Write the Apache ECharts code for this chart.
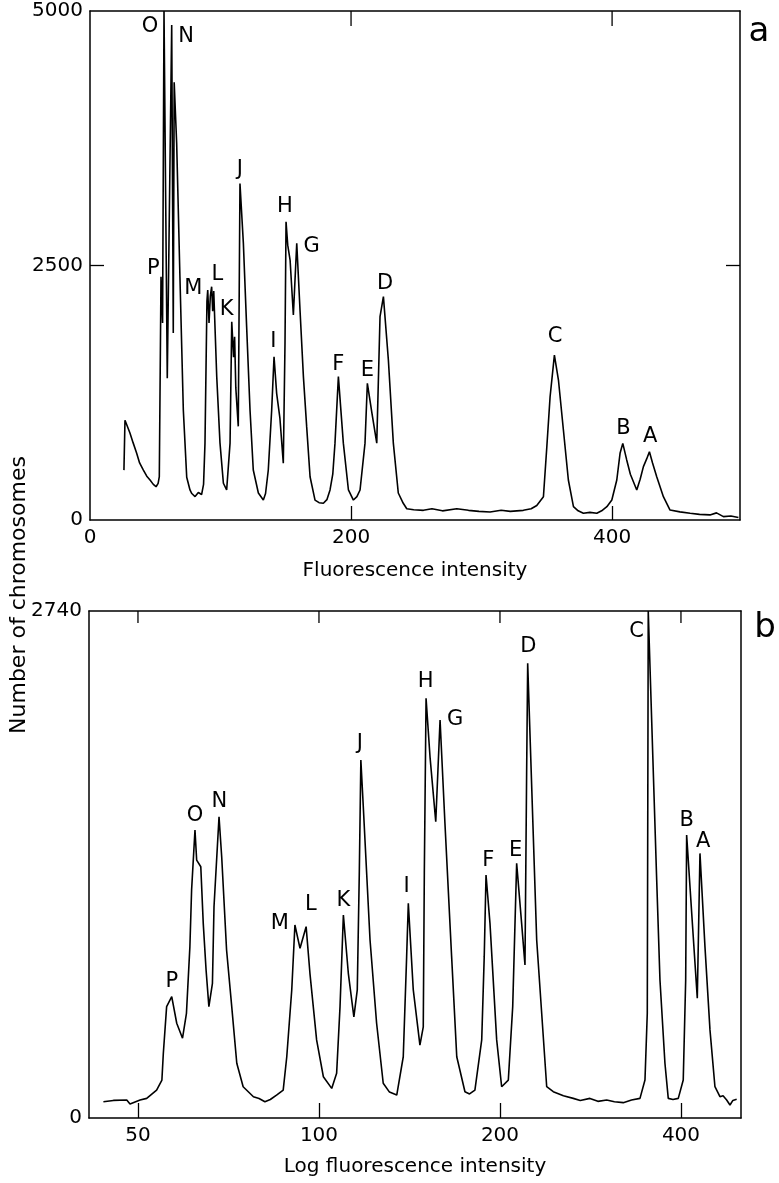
<!DOCTYPE html>
<html><head><meta charset="utf-8">
<script src="https://cdn.jsdelivr.net/npm/echarts@6/dist/echarts.min.js"></script>
<style>html,body{margin:0;padding:0;background:#fff}#c{width:779px;height:1183px}</style>
</head><body><div id="c"></div>
<script>
// ---------- Panel a: linear fluorescence intensity ----------
const aIntensity = [26,26.8,28,30.6,33,35.7,38,40.9,43.5,46,48.5,50.6,52.2,53.1,54.4,55.6,56.7,59.2,62.6,63.8,64.5,66.4,68.9,71.5,74.1,76.6,78,80.5,83,85.5,87,88.1,89.6,90.2,91.2,92.2,93.2,94,94.8,97.1,99.6,102.2,104.7,107.3,108.6,110,110.8,111.7,113.6,114.9,117.5,120,122.6,125.1,129,132.8,134.5,136.6,139.2,141,143,145.5,148.1,149.4,150.2,151.5,153.3,155.8,158.4,160.9,163.5,166,168.6,172.4,175.5,178.8,181.5,183.9,186,187.7,190.3,194.1,198,201.8,204.5,206.9,210.7,212.5,216,219.7,222.2,224.8,228.6,232.4,236.2,240,242.7,248,255.4,262,270,281,290,298,306.5,315,322,332,338,342.3,347.4,350,352.5,355.8,358.9,362.7,366.5,370.4,374,378,383,388.3,392,396,399.8,403.6,406.1,408.2,411.2,414,418.9,421.5,424,426.5,428.6,431,434.2,439.3,444.4,452,459.8,467,475,480,485.3,491,496.8];
const aCount = [490,980,940,855,760,658,560,491,430,393,350,327,360,425,2390,1935,5000,1392,4862,1837,4300,3700,2390,1080,420,295,260,230,270,250,350,755,2150,2260,1935,2200,2292,2050,2250,1408,755,361,295,755,1948,1600,1800,1300,920,3306,2720,1900,1080,491,265,196,260,491,1080,1604,1244,1000,557,1735,2930,2700,2554,2014,2718,2063,1408,917,425,196,170,164,200,295,450,755,1408,755,295,196,230,295,755,1343,1050,755,1997,2194,1572,755,265,164,110,100,95,110,90,110,95,85,79,95,85,95,110,143,229,720,1211,1620,1375,884,393,131,90,66,75,66,90,131,196,393,655,753,590,450,295,400,524,600,671,560,425,229,98,80,66,55,50,70,33,40,25];
const aPeakNames = ['O','N','P','M','L','K','J','I','H','G','F','E','D','C','B','A'];
const aPeakX = [46,73.6,48.5,79.2,97.6,104.7,114.9,140.5,149.4,169.9,190.3,212.5,226,356.3,408.7,429.1];
const aPeakY = [4846,4748,2472,2276,2407,2063,3438,1751,3078,2685,1523,1473,2325,1801,900,818];
const aXTicks = [200,400];
const aXLabels = [0,200,400];
const aYTicks = [2500];
const aYLabels = [0,2500,5000];

// ---------- Panel b: log fluorescence intensity ----------
const bIntensity = [43.8,45.5,47.9,48.5,50.4,51.7,53.7,54.8,55.1,55.8,56.9,58.0,59.3,60.2,61.0,61.4,62.2,62.6,63.6,64.2,64.9,65.6,66.5,66.9,68.2,68.9,70.2,71.6,73.0,74.8,77.8,79.5,81.3,83,85.0,87.2,88.4,90.1,91.2,93.0,95.2,96.6,99.1,101.7,105.0,107.0,108.4,109.8,111.9,114.3,115.8,116.7,117.4,118.5,121.6,124.7,127.9,131,134.7,138.1,139.9,140.8,143.5,147.2,149.1,149.7,150.7,153.0,156.4,159.0,162.0,166.2,169.5,174.9,178,181.7,186.5,188.3,189.6,192.5,197.5,201.3,206.5,210.0,213.2,217.3,220.1,221.5,222.4,230.2,239.2,245.3,255,264.8,272,282.3,291,301,310,320.7,331,341.9,348.5,351.6,352.9,364.5,369.1,376.2,381,388,395.9,403.5,407.3,408.8,417.2,425.8,430.2,438.5,447,455.6,464.4,470,476.5,482.6,488,495.1];
const bCount = [88,95,97,76,97,106,151,205,350,602,656,512,431,566,926,1232,1556,1394,1358,1052,800,602,728,1142,1628,1412,908,602,296,169,115,105,88,100,124,151,331,692,1043,917,1034,782,422,223,160,242,602,1097,782,547,692,1322,1935,1682,962,512,188,140,124,331,872,1160,692,394,493,1322,2268,1952,1601,2151,1593,872,331,142,130,151,422,872,1313,1052,422,169,205,602,1376,1052,827,1863,2457,962,169,142,120,106,95,106,90,97,88,83,97,106,205,566,2740,1286,746,296,106,100,106,205,746,1529,1086,647,1430,926,476,169,115,120,97,70,95,101];
const bPeakNames = ['P','O','N','M','L','K','J','I','H','G','F','E','D','C','B','A'];
const bPeakX = [56.9,62.2,68.3,86.1,96.9,109.8,117.0,139.9,150.5,168.4,191.2,212.4,222.9,337.6,408.8,435.7];
const bPeakY = [737,1637,1709,1052,1151,1174,2025,1250,2358,2151,1394,1448,2547,2628,1610,1493];
const bXTicks = [50,100,200,400];
const bXMin = 41.45, bXMax = 503.4;
const bYLabels = [0,2740];

const FONT = '"DejaVu Sans", sans-serif';
const lg = Math.log10;

const axLine = {show:true, onZero:false, lineStyle:{color:'#000', width:1.5}};
const tickStyle = {color:'#000', width:1.3};
const plain = v => String(Math.round(v));
const lbl = (extra) => Object.assign({color:'#000', fontSize:20, fontFamily:FONT, formatter:plain}, extra);

// top-edge tick marks: x from the axis scale, y from the grid's top edge, pointing down
function topTicks(xIdx, yIdx, ticks, len) {
  return {type:'custom', xAxisIndex:xIdx, yAxisIndex:yIdx, clip:false, silent:true, z:10,
    data:ticks.map(v=>[v, 0]),
    renderItem:(params, api)=>{
      const p = api.coord([api.value(0), 0]);
      const top = params.coordSys.y;
      return {type:'line', shape:{x1:p[0], y1:top, x2:p[0], y2:top+len},
              style:{stroke:'#000', lineWidth:1.3}};
    }};
}

const option = {
  animation:false,
  backgroundColor:'#fff',
  grid:[
    {left:90, top:11, width:650, height:509},
    {left:89, top:611, width:652, height:507}
  ],
  xAxis:[
    {type:'value', gridIndex:0, position:'bottom', min:0, max:498,
     axisLine:axLine, splitLine:{show:false},
     axisTick:{show:true, inside:true, length:14, customValues:aXTicks, lineStyle:tickStyle},
     axisLabel:lbl({customValues:aXLabels, margin:8}),
     name:'Fluorescence intensity', nameLocation:'middle', nameGap:41,
     nameTextStyle:{color:'#000', fontSize:20, fontFamily:FONT}},
    {type:'value', gridIndex:0, position:'top', min:0, max:498,
     axisLine:axLine, splitLine:{show:false}, axisTick:{show:false}, axisLabel:{show:false}},
    {type:'value', gridIndex:1, position:'bottom', min:lg(bXMin), max:lg(bXMax),
     axisLine:axLine, splitLine:{show:false},
     axisTick:{show:true, inside:true, length:15, customValues:bXTicks.map(lg), lineStyle:tickStyle},
     axisLabel:lbl({customValues:bXTicks.map(lg), margin:8, formatter:v=>String(Math.round(Math.pow(10,v)))}),
     name:'Log fluorescence intensity', nameLocation:'middle', nameGap:39,
     nameTextStyle:{color:'#000', fontSize:20, fontFamily:FONT}},
    {type:'value', gridIndex:1, position:'top', min:lg(bXMin), max:lg(bXMax),
     axisLine:axLine, splitLine:{show:false}, axisTick:{show:false}, axisLabel:{show:false}}
  ],
  yAxis:[
    {type:'value', gridIndex:0, position:'left', min:0, max:5000, interval:2500,
     axisLine:axLine, splitLine:{show:false},
     axisTick:{show:true, inside:true, length:14, customValues:aYTicks, lineStyle:tickStyle},
     axisLabel:lbl({customValues:aYLabels, margin:7})},
    {type:'value', gridIndex:0, position:'right', min:0, max:5000, interval:2500,
     axisLine:axLine, splitLine:{show:false},
     axisTick:{show:true, inside:true, length:14, customValues:aYTicks, lineStyle:tickStyle},
     axisLabel:{show:false}},
    {type:'value', gridIndex:1, position:'left', min:0, max:2740, interval:2740,
     axisLine:axLine, splitLine:{show:false},
     axisTick:{show:false},
     axisLabel:lbl({customValues:bYLabels, margin:7})},
    {type:'value', gridIndex:1, position:'right', min:0, max:2740, interval:2740,
     axisLine:axLine, splitLine:{show:false},
     axisTick:{show:false}, axisLabel:{show:false}}
  ],
  series:[
    {type:'line', xAxisIndex:0, yAxisIndex:0, showSymbol:false, symbol:'none',
     lineStyle:{color:'#000', width:1.6}, clip:true,
     data:aIntensity.map((x,i)=>[x,aCount[i]])},
    {type:'line', xAxisIndex:2, yAxisIndex:2, showSymbol:false, symbol:'none',
     lineStyle:{color:'#000', width:1.6}, clip:true,
     data:bIntensity.map((x,i)=>[lg(x),bCount[i]])},
    {type:'scatter', xAxisIndex:0, yAxisIndex:0, symbolSize:1,
     itemStyle:{color:'rgba(0,0,0,0)'},
     label:{show:true, position:'inside', formatter:p=>p.name, color:'#000', opacity:1, fontSize:21, fontFamily:FONT},
     data:aPeakNames.map((n,i)=>({name:n, value:[aPeakX[i], aPeakY[i]]}))},
    {type:'scatter', xAxisIndex:2, yAxisIndex:2, symbolSize:1,
     itemStyle:{color:'rgba(0,0,0,0)'},
     label:{show:true, position:'inside', formatter:p=>p.name, color:'#000', opacity:1, fontSize:21, fontFamily:FONT},
     data:bPeakNames.map((n,i)=>({name:n, value:[lg(bPeakX[i]), bPeakY[i]]}))},
    topTicks(0, 0, aXTicks, 15),
    topTicks(2, 2, bXTicks.map(lg), 12)
  ],
  graphic:[
    {type:'text', x:19, y:595, rotation:Math.PI/2,
     style:{text:'Number of chromosomes', fill:'#000', font:'22px "DejaVu Sans"', textAlign:'center', textVerticalAlign:'middle', align:'center', verticalAlign:'middle'}},
    {type:'text', x:759, y:32,
     style:{text:'a', fill:'#000', font:'34px "DejaVu Sans"', textAlign:'center', textVerticalAlign:'middle', align:'center', verticalAlign:'middle'}},
    {type:'text', x:765, y:628,
     style:{text:'b', fill:'#000', font:'34px "DejaVu Sans"', textAlign:'center', textVerticalAlign:'middle', align:'center', verticalAlign:'middle'}}
  ]
};
const chart = echarts.init(document.getElementById('c'), null, {renderer:'canvas'});
chart.setOption(option);
</script>
</body></html>
